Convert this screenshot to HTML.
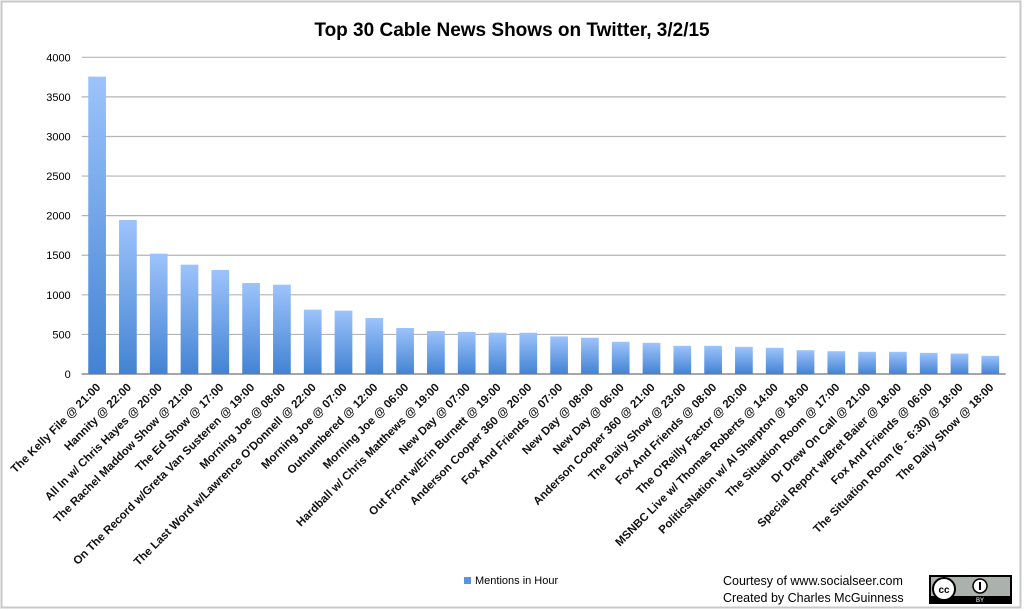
<!DOCTYPE html>
<html><head><meta charset="utf-8"><style>
body{margin:0;background:#fff;}
svg{display:block;font-family:"Liberation Sans",sans-serif;}
</style></head><body>
<svg id="chart" width="1024" height="611" viewBox="0 0 1024 611">
<defs>
<linearGradient id="barg" x1="0" y1="0" x2="0" y2="1">
<stop offset="0" stop-color="#9dc3fb"/><stop offset="1" stop-color="#4383d3"/>
</linearGradient>
</defs>
<rect x="1.5" y="1.5" width="1019" height="606" fill="#fff" stroke="#c8c8c8" stroke-width="2"/>
<text x="512" y="36" text-anchor="middle" font-size="19" font-weight="bold" fill="#000">Top 30 Cable News Shows on Twitter, 3/2/15</text>
<g id="grid"></g><g id="yticks"></g><g id="bars"></g><g id="xlabels"></g>
<rect x="464" y="577" width="7" height="7" fill="#5b93dc"/>
<text x="475" y="584" font-size="11" fill="#000">Mentions in Hour</text>
<text x="723" y="585" font-size="12.5" fill="#000">Courtesy of www.socialseer.com</text>
<text x="723" y="602" font-size="12.5" fill="#000">Created by Charles McGuinness</text>
<g>
<rect x="929" y="575" width="83" height="29" fill="#000"/>
<rect x="931" y="577" width="79" height="19" fill="#aab2ab"/>
<circle cx="944" cy="589" r="11" fill="#fff" stroke="#000" stroke-width="2"/>
<text x="944" y="593" text-anchor="middle" font-size="10" font-weight="bold" fill="#000">cc</text>
<circle cx="980" cy="586" r="7" fill="#fff" stroke="#000" stroke-width="1.5"/>
<rect x="979" y="582" width="2" height="8" fill="#000"/>
<text x="980" y="602" text-anchor="middle" font-size="6" fill="#fff">BY</text>
</g>
</svg>
<script>
const categories=["The Kelly File @ 21:00","Hannity @ 22:00","All In w/ Chris Hayes @ 20:00","The Rachel Maddow Show @ 21:00","The Ed Show @ 17:00","On The Record w/Greta Van Susteren @ 19:00","Morning Joe @ 08:00","The Last Word w/Lawrence O'Donnell @ 22:00","Morning Joe @ 07:00","Outnumbered @ 12:00","Morning Joe @ 06:00","Hardball w/ Chris Matthews @ 19:00","New Day @ 07:00","Out Front w/Erin Burnett @ 19:00","Anderson Cooper 360 @ 20:00","Fox And Friends @ 07:00","New Day @ 08:00","New Day @ 06:00","Anderson Cooper 360 @ 21:00","The Daily Show @ 23:00","Fox And Friends @ 08:00","The O'Reilly Factor @ 20:00","MSNBC Live w/ Thomas Roberts @ 14:00","PoliticsNation w/ Al Sharpton @ 18:00","The Situation Room @ 17:00","Dr Drew On Call @ 21:00","Special Report w/Bret Baier @ 18:00","Fox And Friends @ 06:00","The Situation Room (6 - 6:30) @ 18:00","The Daily Show @ 18:00"];
const mentions=[3756,1945,1520,1381,1314,1149,1128,813,800,707,581,543,531,522,521,475,458,407,394,356,356,343,331,301,288,280,280,267,258,229];
const yTicks=[0,500,1000,1500,2000,2500,3000,3500,4000];
const NS="http://www.w3.org/2000/svg";
const X0=81.7,X1=1005.7,Y0=374,Y1=57.3,YMAX=4000;
const band=(X1-X0)/categories.length;
function xs(i){return X0+band*i;}
function ys(v){return Y0-(v/YMAX)*(Y0-Y1);}
function mk(tag,attrs,parent){const e=document.createElementNS(NS,tag);for(const k in attrs)e.setAttribute(k,attrs[k]);parent.appendChild(e);return e;}
const grid=document.getElementById('grid'),yt=document.getElementById('yticks'),bars=document.getElementById('bars'),xl=document.getElementById('xlabels');
yTicks.forEach(t=>{
  const l=mk('line',{x1:X0,x2:X1,y1:ys(t),y2:ys(t),stroke:t===0?'#888':'#b4b4b4','stroke-width':t===0?1.5:1.2},grid);
  
  
  const tx=mk('text',{x:X0-11,y:ys(t)+4,'text-anchor':'end','font-size':11,fill:'#000'},yt);
  tx.textContent=t;
  
  
});
mentions.forEach((v,i)=>{
  const w=band*0.575;
  const r=mk('rect',{x:xs(i)+(band-w)/2,y:ys(v),width:w,height:Y0-ys(v),fill:'url(#barg)'},bars);
  
  
  const cx=xs(i)+band/2+4,cy=388;
  const t=mk('text',{x:cx,y:cy,'text-anchor':'end','font-size':11.5,'font-weight':'bold',fill:'#111',transform:'rotate(-45 '+cx+' '+cy+')'},xl);
  t.textContent=categories[i];
  
  
});
</script>
</body></html>
